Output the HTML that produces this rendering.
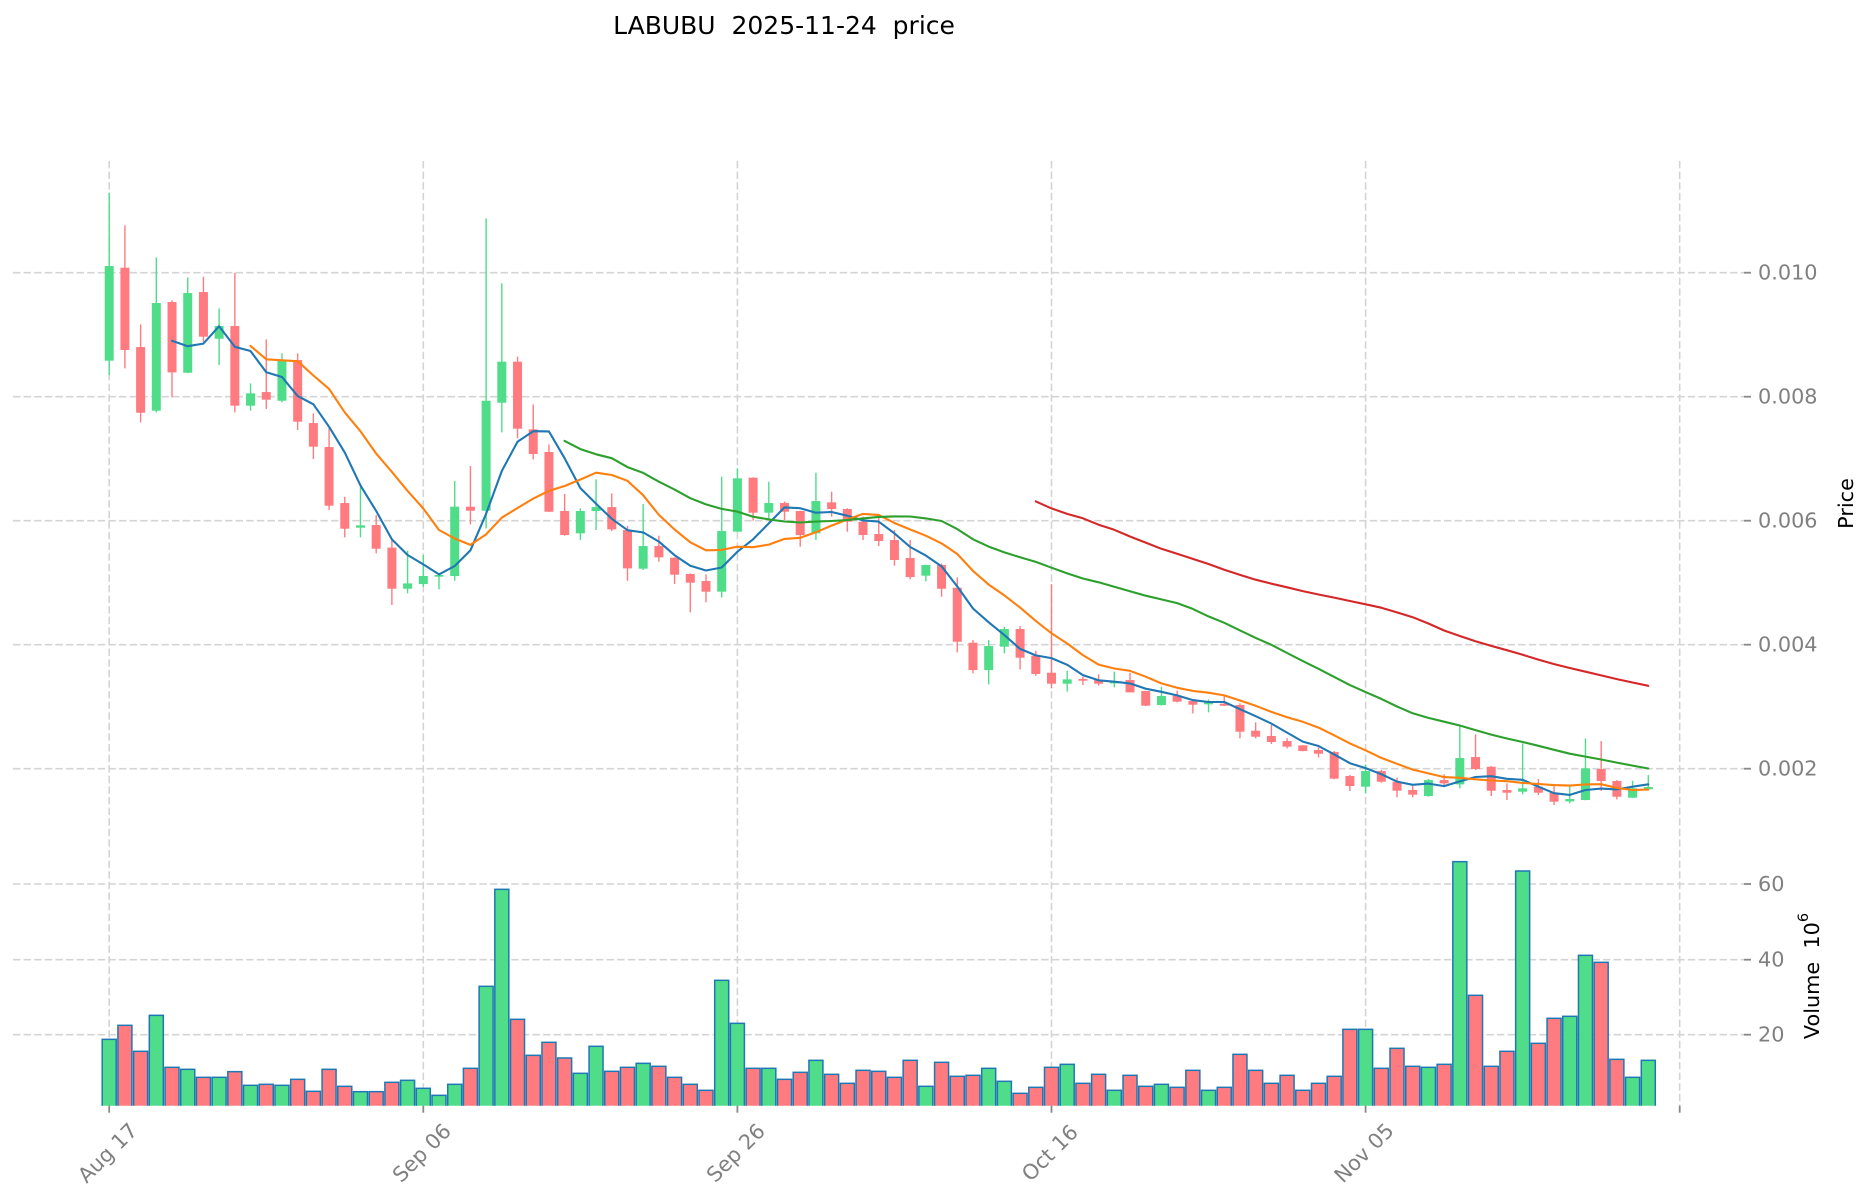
<!DOCTYPE html>
<html>
<head>
<meta charset="utf-8">
<style>
html,body{margin:0;padding:0;background:#fff;}
svg{display:block;}
text{font-family:"DejaVu Sans","Liberation Sans",sans-serif;}
</style>
</head>
<body>
<svg id="c" width="1860" height="1202" viewBox="0 0 1860 1202" xmlns="http://www.w3.org/2000/svg">
<defs>
  <clipPath id="vclip"><rect x="13" y="845" width="1731" height="260.7"/></clipPath>
</defs>
<rect width="1860" height="1202" fill="#fff"/>

<!-- grid -->
<g stroke="#d4d4d4" stroke-width="1.6" stroke-dasharray="7.4,3.2" fill="none">
  <line x1="13" x2="1744" y1="272.7" y2="272.7"/>
  <line x1="13" x2="1744" y1="396.7" y2="396.7"/>
  <line x1="13" x2="1744" y1="520.7" y2="520.7"/>
  <line x1="13" x2="1744" y1="644.7" y2="644.7"/>
  <line x1="13" x2="1744" y1="768.7" y2="768.7"/>
  <line x1="13" x2="1744" y1="884" y2="884"/>
  <line x1="13" x2="1744" y1="959.7" y2="959.7"/>
  <line x1="13" x2="1744" y1="1034.7" y2="1034.7"/>
  <line x1="109.2" x2="109.2" y1="161" y2="1105.7"/>
  <line x1="423.3" x2="423.3" y1="161" y2="1105.7"/>
  <line x1="737.4" x2="737.4" y1="161" y2="1105.7"/>
  <line x1="1051.5" x2="1051.5" y1="161" y2="1105.7"/>
  <line x1="1365.6" x2="1365.6" y1="161" y2="1105.7"/>
  <line x1="1679.7" x2="1679.7" y1="161" y2="1105.7"/>
</g>

<g id="vol" clip-path="url(#vclip)"></g>
<g id="data"></g>

<!-- tick marks -->
<g stroke="#888" stroke-width="1.8">
  <line x1="1744" x2="1751" y1="272.7" y2="272.7"/>
  <line x1="1744" x2="1751" y1="396.7" y2="396.7"/>
  <line x1="1744" x2="1751" y1="520.7" y2="520.7"/>
  <line x1="1744" x2="1751" y1="644.7" y2="644.7"/>
  <line x1="1744" x2="1751" y1="768.7" y2="768.7"/>
  <line x1="1744" x2="1751" y1="884" y2="884"/>
  <line x1="1744" x2="1751" y1="959.7" y2="959.7"/>
  <line x1="1744" x2="1751" y1="1034.7" y2="1034.7"/>
  <line x1="109.2" x2="109.2" y1="1105.7" y2="1112.7"/>
  <line x1="423.3" x2="423.3" y1="1105.7" y2="1112.7"/>
  <line x1="737.4" x2="737.4" y1="1105.7" y2="1112.7"/>
  <line x1="1051.5" x2="1051.5" y1="1105.7" y2="1112.7"/>
  <line x1="1365.6" x2="1365.6" y1="1105.7" y2="1112.7"/>
  <line x1="1679.7" x2="1679.7" y1="1105.7" y2="1112.7"/>
</g>

<!-- tick labels -->
<g fill="#808080" font-size="20.8" dominant-baseline="central">
  <text x="1758" y="272.7">0.010</text>
  <text x="1758" y="396.7">0.008</text>
  <text x="1758" y="520.7">0.006</text>
  <text x="1758" y="644.7">0.004</text>
  <text x="1758" y="768.7">0.002</text>
  <text x="1758" y="884">60</text>
  <text x="1758" y="959.7">40</text>
  <text x="1758" y="1034.7">20</text>
</g>
<g fill="#808080" font-size="20.8" text-anchor="middle" dominant-baseline="central">
  <text transform="translate(107.7,1153) rotate(-45)">Aug 17</text>
  <text transform="translate(421.8,1153) rotate(-45)">Sep 06</text>
  <text transform="translate(735.9,1153) rotate(-45)">Sep 26</text>
  <text transform="translate(1050,1153) rotate(-45)">Oct 16</text>
  <text transform="translate(1364.1,1153) rotate(-45)">Nov 05</text>
</g>

<!-- axis labels -->
<text transform="translate(1846,503.5) rotate(-90)" font-size="20.8" text-anchor="middle" dominant-baseline="central" fill="#000">Price</text>
<text transform="translate(1812,976) rotate(-90)" font-size="20.8" text-anchor="middle" dominant-baseline="central" fill="#000" xml:space="preserve" style="white-space:pre">Volume  10<tspan font-size="14.5" dy="-8">6</tspan></text>

<!-- title -->
<text x="784" y="34" font-size="25" text-anchor="middle" fill="#000" xml:space="preserve" style="white-space:pre">LABUBU  2025-11-24  price</text>
</svg>

<script>
(function(){
var D=[
[8.581,11.29,8.35,10.108],[10.081,10.763,8.457,8.753],[8.801,9.167,7.586,7.742],[7.774,10.247,7.747,9.511],
[9.527,9.554,7.989,8.392],[8.387,9.925,8.38,9.672],[9.688,9.935,8.887,8.968],[8.935,9.425,8.511,9.140],
[9.140,10.0,7.747,7.855],[7.855,8.215,7.774,8.054],[8.075,8.925,7.801,7.952],[7.935,8.699,7.909,8.591],
[8.591,8.699,7.462,7.597],[7.575,7.731,6.995,7.194],[7.188,7.489,6.172,6.242],[6.285,6.387,5.731,5.871],
[5.887,6.559,5.731,5.925],[5.930,6.091,5.473,5.548],[5.565,5.688,4.640,4.903],[4.903,5.516,4.828,4.989],
[4.978,5.446,4.935,5.108],[5.097,5.15,4.892,5.124],[5.108,6.640,5.032,6.226],[6.226,6.882,5.941,6.161],
[6.161,10.876,5.876,7.935],[7.903,9.828,7.425,8.565],[8.565,8.645,7.328,7.484],[7.473,7.876,6.989,7.075],
[7.108,7.231,6.14,6.145],[6.156,6.430,5.758,5.769],[5.796,6.199,5.688,6.156],[6.156,6.667,5.849,6.220],
[6.220,6.441,5.833,5.860],[5.849,5.914,5.032,5.231],[5.226,6.269,5.204,5.591],[5.591,5.758,5.339,5.409],
[5.403,5.41,4.978,5.129],[5.140,5.15,4.522,5.0],[5.027,5.134,4.683,4.855],[4.855,6.710,4.763,5.833],
[5.823,6.844,5.82,6.683],[6.694,6.70,6.0,6.129],[6.129,6.629,6.038,6.285],[6.285,6.31,6.01,6.145],
[6.156,6.16,5.581,5.769],[5.796,6.774,5.688,6.317],[6.296,6.468,6.065,6.188],[6.188,6.20,5.823,5.984],
[5.984,6.065,5.688,5.769],[5.785,6.065,5.591,5.672],[5.688,5.849,5.274,5.366],[5.398,5.688,5.054,5.091],
[5.113,5.29,5.022,5.285],[5.285,5.31,4.774,4.903],[4.919,5.086,3.876,4.048],[4.032,4.075,3.538,3.591],
[3.591,4.075,3.360,3.978],[3.968,4.290,3.860,4.253],[4.253,4.301,3.602,3.790],[3.823,3.903,3.5,3.527],
[3.548,4.978,3.296,3.371],[3.371,3.581,3.242,3.441],[3.446,3.484,3.349,3.419],[3.430,3.522,3.339,3.371],
[3.376,3.565,3.312,3.414],[3.430,3.548,3.23,3.231],[3.253,3.255,3.011,3.016],[3.027,3.323,3.02,3.172],
[3.177,3.258,3.07,3.081],[3.091,3.11,2.892,3.032],[3.038,3.118,2.909,3.075],[3.048,3.172,3.01,3.016],
[3.027,3.054,2.489,2.597],[2.613,2.747,2.489,2.516],[2.527,2.704,2.398,2.430],[2.446,2.49,2.328,2.355],
[2.376,2.38,2.28,2.285],[2.301,2.344,2.183,2.242],[2.269,2.285,1.83,1.839],[1.882,1.898,1.640,1.720],
[1.710,2.07,1.605,1.962],[1.962,1.98,1.774,1.790],[1.790,1.855,1.538,1.645],[1.656,1.720,1.538,1.581],
[1.559,1.833,1.548,1.817],[1.817,1.909,1.731,1.763],[1.747,2.688,1.683,2.172],[2.188,2.554,1.978,1.995],
[2.032,2.04,1.559,1.645],[1.656,1.763,1.495,1.613],[1.629,2.409,1.586,1.683],[1.710,1.833,1.575,1.613],
[1.613,1.720,1.414,1.468],[1.473,1.747,1.441,1.511],[1.495,2.489,1.49,2.005],[1.995,2.446,1.640,1.801],
[1.801,1.817,1.505,1.548],[1.532,1.806,1.53,1.683],[1.667,1.898,1.66,1.704]
];
var VT=[493,451,529,421,577,583,607,607,590,631,628,631,613,649,583,634,650,650,622,616,
640,661,628,580,334,43,433,541,502,549,595,514,589,577,565,574,607,628,646,316,
445,580,580,613,592,556,598,625,586,589,607,556,634,562,604,601,580,619,655,637,
577,568,625,598,646,601,634,628,637,586,646,637,538,586,625,601,646,625,604,463,
463,580,520,574,577,568,-40,361,574,529,-12,505,430,424,241,262,553,607,556];
var ns="http://www.w3.org/2000/svg";
var gd=document.getElementById('data'), gv=document.getElementById('vol');
function el(p,n,a){var e=document.createElementNS(ns,n);for(var k in a)e.setAttribute(k,a[k]);p.appendChild(e);return e;}
function X(i){return 109.2+15.705*i;}
function Y(p){return 272.7+(10-p)*62;}
var G='#4fdd89', R='#ff7b80';
for(var i=0;i<VT.length;i++){
  var top=875+VT[i]/3, d=D[i], up=d[3]>=d[0];
  el(gv,'rect',{x:(X(i)-7).toFixed(2),y:top.toFixed(2),width:14,height:(1110-top).toFixed(2),fill:up?G:R,stroke:'#1f77b4','stroke-width':1.5});
}
for(var i=0;i<D.length;i++){
  var o=D[i][0],h=D[i][1],l=D[i][2],c=D[i][3],up=c>=o,col=up?G:R,x=X(i);
  el(gd,'line',{x1:x.toFixed(2),x2:x.toFixed(2),y1:Y(h).toFixed(2),y2:Y(l).toFixed(2),stroke:col,'stroke-width':1.4});
  var yt=Y(Math.max(o,c)), yb=Y(Math.min(o,c));
  el(gd,'rect',{x:(x-4.5).toFixed(2),y:yt.toFixed(2),width:9,height:Math.max(yb-yt,1.2).toFixed(2),fill:col});
}
var MA=[[5,'#1f77b4'],[10,'#ff7f0e'],[30,'#2ca02c'],[60,'#d62728']];
for(var m=0;m<MA.length;m++){
  var n=MA[m][0], pts=[];
  for(var i=n-1;i<D.length;i++){
    var s=0; for(var k=i-n+1;k<=i;k++) s+=D[k][3];
    pts.push(X(i).toFixed(1)+','+Y(s/n).toFixed(1));
  }
  el(gd,'polyline',{points:pts.join(' '),fill:'none',stroke:MA[m][1],'stroke-width':2.1,'stroke-linejoin':'round','stroke-linecap':'round'});
}
})();
</script>
</body>
</html>
